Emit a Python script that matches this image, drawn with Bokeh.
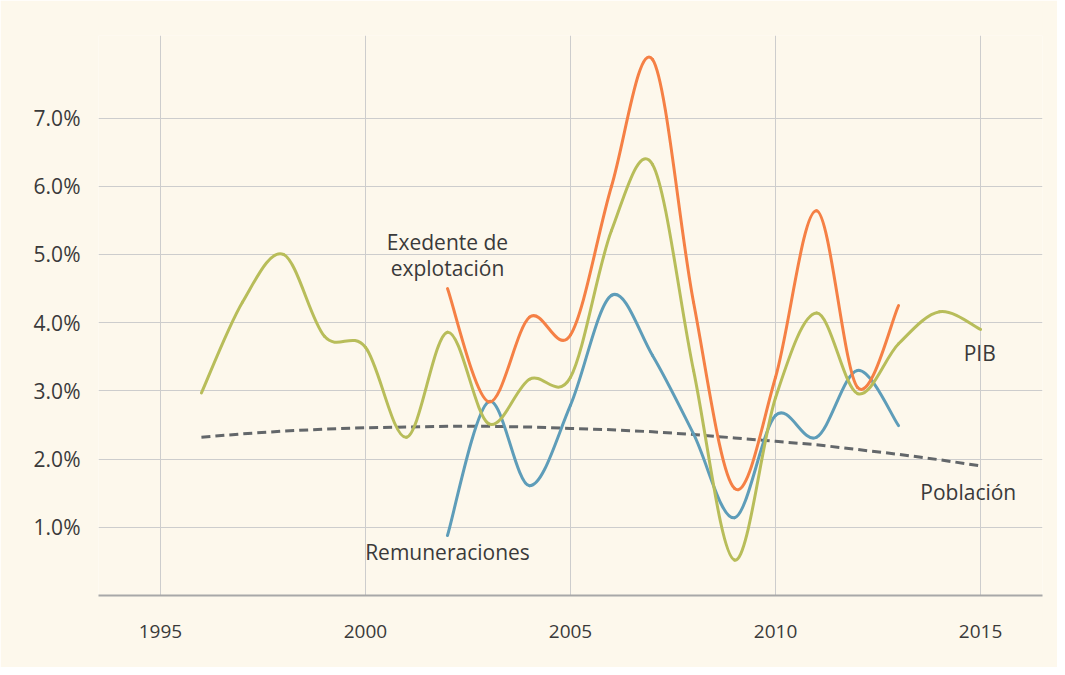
from bokeh.plotting import figure
from bokeh.models import Range1d, FixedTicker, Label
from bokeh.embed import file_html
from bokeh.resources import INLINE

# ---- data ----
years_pib = [1996, 1997, 1998, 1999, 2000, 2001, 2002, 2003, 2004, 2005,
             2006, 2007, 2008, 2009, 2010, 2011, 2012, 2013, 2014, 2015]
pib = [2.97, 4.3, 5.0, 3.8, 3.64, 2.32, 3.86, 2.52, 3.17, 3.2,
       5.35, 6.32, 3.3, 0.52, 2.9, 4.14, 2.96, 3.69, 4.16, 3.9]

years_exc = [2002, 2003, 2004, 2005, 2006, 2007, 2008, 2009, 2010, 2011, 2012, 2013]
excedente = [4.5, 2.84, 4.08, 3.82, 6.0, 7.86, 4.3, 1.57, 3.2, 5.64, 3.05, 4.25]

years_rem = [2002, 2003, 2004, 2005, 2006, 2007, 2008, 2009, 2010, 2011, 2012, 2013]
remuneraciones = [0.88, 2.84, 1.61, 2.79, 4.4, 3.52, 2.37, 1.14, 2.64, 2.32, 3.3, 2.49]

years_pob = [1996, 1997, 1998, 1999, 2000, 2001, 2002, 2003, 2004, 2005,
             2006, 2007, 2008, 2009, 2010, 2011, 2012, 2013, 2014, 2015]
poblacion = [2.32, 2.37, 2.41, 2.44, 2.46, 2.47, 2.48, 2.48, 2.47, 2.45,
             2.43, 2.40, 2.36, 2.31, 2.26, 2.21, 2.14, 2.07, 1.99, 1.90]

x_ticks = [1995, 2000, 2005, 2010, 2015]
y_ticks = [1, 2, 3, 4, 5, 6, 7]
y_tick_labels = ["1.0%", "2.0%", "3.0%", "4.0%", "5.0%", "6.0%", "7.0%"]

BG = "#fdf8ec"
FONT = "Open Sans"
TXT = "#3a3a3a"


def catmull_bezier(xs, ys):
    n = len(xs)
    x0, y0, x1, y1, cx0, cy0, cx1, cy1 = ([] for _ in range(8))
    for i in range(n - 1):
        xp, yp = (xs[i - 1], ys[i - 1]) if i > 0 else (xs[i], ys[i])
        xn, yn = (xs[i + 2], ys[i + 2]) if i + 2 < n else (xs[i + 1], ys[i + 1])
        x0.append(xs[i]); y0.append(ys[i])
        x1.append(xs[i + 1]); y1.append(ys[i + 1])
        cx0.append(xs[i] + (xs[i + 1] - xp) / 6.0)
        cy0.append(ys[i] + (ys[i + 1] - yp) / 6.0)
        cx1.append(xs[i + 1] - (xn - xs[i]) / 6.0)
        cy1.append(ys[i + 1] - (yn - ys[i]) / 6.0)
    return dict(x0=x0, y0=y0, x1=x1, y1=y1, cx0=cx0, cy0=cy0, cx1=cx1, cy1=cy1)


p = figure(width=1057, height=667, output_backend="svg", toolbar_location=None,
           x_range=Range1d(1993.49, 2016.51), y_range=Range1d(0, 8.21),
           min_border_left=98, min_border_right=15, min_border_top=35,
           min_border_bottom=72)
p.background_fill_color = BG
p.border_fill_color = BG
p.outline_line_color = None

p.xaxis.ticker = FixedTicker(ticks=x_ticks)
p.yaxis.ticker = FixedTicker(ticks=y_ticks)
p.yaxis.major_label_overrides = {t: l for t, l in zip(y_ticks, y_tick_labels)}
p.xaxis.major_label_overrides = {t: str(t) for t in x_ticks}

for ax in (p.xaxis, p.yaxis):
    ax.major_tick_line_color = None
    ax.minor_tick_line_color = None
    ax.major_label_text_font = FONT
    ax.major_label_text_color = TXT
p.yaxis.major_label_text_font_size = "21px"
p.xaxis.major_label_text_font_size = "19px"
p.yaxis.axis_line_color = None
p.yaxis.major_label_standoff = 12
p.xaxis.axis_line_color = "#a8a8a8"
p.xaxis.axis_line_width = 2
p.xaxis.major_label_standoff = 23

p.xgrid.ticker = FixedTicker(ticks=x_ticks)
p.ygrid.ticker = FixedTicker(ticks=y_ticks)
p.grid.grid_line_color = "#cdcdcd"
p.grid.grid_line_width = 1

# Población dashed
p.line(years_pob, poblacion, line_color="#63676a", line_width=3, line_dash="9 5")

for xs, ys, col in [(years_rem, remuneraciones, "#5e9db9"),
                    (years_pib, pib, "#b8bd5a"),
                    (years_exc, excedente, "#f58045")]:
    d = catmull_bezier(xs, ys)
    p.bezier(x0=d["x0"], y0=d["y0"], x1=d["x1"], y1=d["y1"],
             cx0=d["cx0"], cy0=d["cy0"], cx1=d["cx1"], cy1=d["cy1"],
             line_color=col, line_width=3, line_cap="round")

labels = [("Exedente de", 2002.0, 5.18), ("explotación", 2002.0, 4.80),
          ("Remuneraciones", 2002.0, 0.645), ("PIB", 2014.98, 3.55),
          ("Población", 2014.7, 1.52)]
for t, x, y in labels:
    p.add_layout(Label(x=x, y=y, text=t, text_font=FONT, text_font_size="21px",
                       text_color=TXT, text_align="center", text_baseline="middle"))

open("out.html", "w").write(file_html(p, INLINE))
